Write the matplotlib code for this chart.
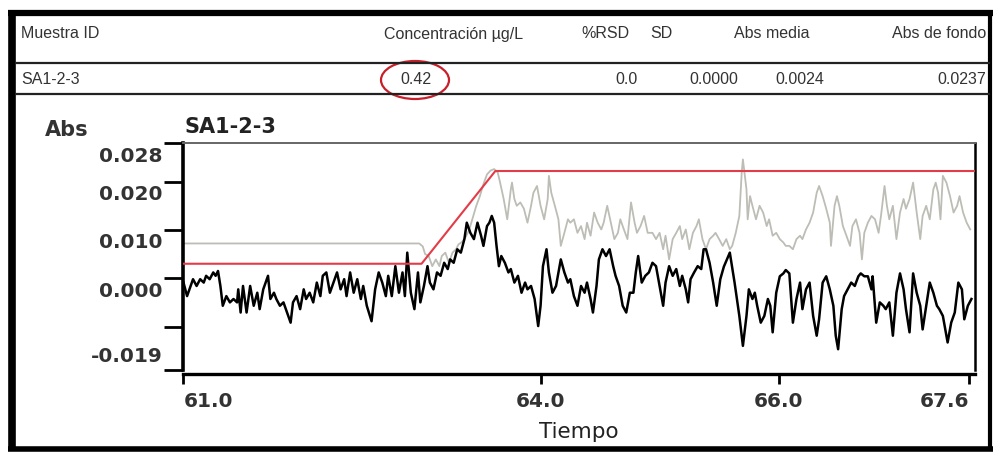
import matplotlib
matplotlib.use("Agg")
import matplotlib.pyplot as plt
from matplotlib.lines import Line2D
from matplotlib.patches import Ellipse
from matplotlib.transforms import Affine2D, ScaledTranslation, blended_transform_factory

# table above the plot
header_labels = ["Muestra ID", "Concentración µg/L", "%RSD", "SD", "Abs media", "Abs de fondo"]
row_values = ["SA1-2-3", "0.42", "0.0", "0.0000", "0.0024", "0.0237"]

# signal (black), background (gray) and baseline (red), Abs vs Tiempo
black_t = [61.00, 61.03, 61.06, 61.08, 61.11, 61.14, 61.17, 61.19, 61.22, 61.25, 61.27, 61.29,
           61.31, 61.33, 61.36, 61.39, 61.42, 61.45, 61.46, 61.48, 61.50, 61.53, 61.56, 61.59,
           61.62, 61.64, 61.67, 61.71, 61.73, 61.76, 61.78, 61.81, 61.84, 61.87, 61.90, 61.92,
           61.95, 61.98, 62.01, 62.03, 62.06, 62.09, 62.12, 62.15, 62.17, 62.20, 62.23, 62.26,
           62.29, 62.32, 62.35, 62.37, 62.40, 62.43, 62.46, 62.49, 62.51, 62.54, 62.58, 62.61,
           62.64, 62.67, 62.70, 62.72, 62.75, 62.78, 62.81, 62.84, 62.86, 62.88, 62.91, 62.94,
           62.97, 62.99, 63.02, 63.05, 63.07, 63.10, 63.13, 63.16, 63.19, 63.22, 63.24, 63.27,
           63.30, 63.33, 63.36, 63.38, 63.41, 63.44, 63.47, 63.50, 63.52, 63.55, 63.57, 63.59,
           63.61, 63.63, 63.65, 63.67, 63.70, 63.73, 63.75, 63.78, 63.81, 63.84, 63.87, 63.89,
           63.92, 63.95, 63.98, 64.00, 64.02, 64.05, 64.07, 64.10, 64.13, 64.15, 64.17, 64.20,
           64.23, 64.25, 64.28, 64.31, 64.34, 64.37, 64.39, 64.42, 64.44, 64.47, 64.49, 64.52,
           64.55, 64.58, 64.61, 64.63, 64.66, 64.69, 64.72, 64.75, 64.78, 64.80, 64.82, 64.85,
           64.88, 64.91, 64.94, 64.97, 65.00, 65.03, 65.05, 65.08, 65.11, 65.14, 65.17, 65.19,
           65.22, 65.24, 65.26, 65.29, 65.32, 65.35, 65.37, 65.39, 65.42, 65.45, 65.48, 65.51,
           65.54, 65.59, 65.63, 65.67, 65.70, 65.73, 65.75, 65.78, 65.80, 65.82, 65.85, 65.88,
           65.91, 65.93, 65.95, 65.98, 66.01, 66.04, 66.06, 66.09, 66.12, 66.15, 66.18, 66.20,
           66.23, 66.26, 66.29, 66.32, 66.34, 66.37, 66.40, 66.43, 66.46, 66.48, 66.50, 66.53,
           66.55, 66.58, 66.61, 66.64, 66.67, 66.69, 66.72, 66.75, 66.78, 66.79, 66.82, 66.85,
           66.88, 66.90, 66.93, 66.96, 66.99, 67.02, 67.05, 67.07, 67.10, 67.13, 67.16, 67.19,
           67.21, 67.24, 67.27, 67.30, 67.33, 67.35, 67.38, 67.42, 67.45, 67.48, 67.51, 67.54,
           67.56, 67.59, 67.62]
black_abs = [-0.0009, -0.0037, -0.0016, -0.0002, -0.0016, -0.0002, -0.0009, 0.0005, -0.0002, 0.0012, 0.0005, 0.0015,
             -0.0016, -0.0057, -0.0037, -0.0050, -0.0043, -0.0050, -0.0023, -0.0071, -0.0016, -0.0071, -0.0016, -0.0057,
             -0.0030, -0.0064, -0.0023, 0.0005, -0.0043, -0.0030, -0.0043, -0.0057, -0.0050, -0.0071, -0.0092, -0.0050,
             -0.0037, -0.0064, -0.0023, -0.0043, -0.0030, -0.0050, -0.0009, -0.0037, 0.0005, 0.0012, -0.0030, -0.0009,
             0.0012, -0.0023, -0.0002, -0.0037, 0.0012, -0.0030, -0.0002, -0.0043, -0.0016, -0.0057, -0.0089, -0.0023,
             0.0012, -0.0009, -0.0037, 0.0005, -0.0037, 0.0025, -0.0030, 0.0012, -0.0037, 0.0053, -0.0030, -0.0064,
             0.0012, -0.0050, -0.0016, 0.0025, -0.0009, -0.0023, 0.0012, 0.0005, 0.0032, 0.0019, 0.0039, 0.0032,
             0.0060, 0.0053, 0.0081, 0.0115, 0.0094, 0.0081, 0.0115, 0.0088, 0.0067, 0.0108, 0.0115, 0.0129,
             0.0115, 0.0067, 0.0025, 0.0046, 0.0032, 0.0012, 0.0019, -0.0009, 0.0005, -0.0030, -0.0009, -0.0023,
             -0.0016, -0.0043, -0.0099, -0.0057, 0.0025, 0.0060, 0.0012, -0.0030, -0.0016, 0.0012, 0.0039, 0.0012,
             -0.0009, -0.0002, -0.0037, -0.0057, -0.0016, -0.0030, -0.0009, -0.0043, -0.0071, -0.0016, 0.0039, 0.0060,
             0.0046, 0.0060, 0.0025, 0.0005, -0.0016, -0.0057, -0.0071, -0.0030, -0.0030, 0.0012, 0.0046, -0.0009,
             0.0005, 0.0012, 0.0032, 0.0025, -0.0016, -0.0057, -0.0009, 0.0025, 0.0005, 0.0019, -0.0016, 0.0005,
             -0.0023, -0.0050, -0.0002, 0.0012, 0.0025, 0.0019, 0.0060, 0.0060, 0.0032, -0.0009, -0.0057, -0.0002,
             0.0024, 0.0053, -0.0009, -0.0078, -0.0140, -0.0078, -0.0023, -0.0043, -0.0030, -0.0057, -0.0092, -0.0078,
             -0.0043, -0.0057, -0.0112, -0.0030, 0.0004, 0.0010, 0.0017, 0.0010, -0.0092, -0.0043, -0.0009, -0.0064,
             -0.0023, -0.0009, -0.0078, -0.0119, -0.0085, -0.0009, 0.0004, -0.0023, -0.0057, -0.0119, -0.0147, -0.0064,
             -0.0037, -0.0023, -0.0009, -0.0016, 0.0004, 0.0010, 0.0004, 0.0004, -0.0023, 0.0004, -0.0092, -0.0050,
             -0.0057, -0.0064, -0.0050, -0.0119, -0.0030, 0.0010, -0.0023, -0.0064, -0.0112, 0.0010, -0.0030, -0.0057,
             -0.0106, -0.0057, -0.0009, -0.0030, -0.0057, -0.0064, -0.0078, -0.0133, -0.0092, -0.0071, -0.0009, -0.0023,
             -0.0085, -0.0057, -0.0043]

gray_t = [61.00, 62.98, 63.01, 63.03, 63.06, 63.09, 63.12, 63.15, 63.17, 63.20, 63.23, 63.26,
          63.29, 63.31, 63.34, 63.37, 63.40, 63.43, 63.46, 63.49, 63.52, 63.55, 63.58, 63.61,
          63.64, 63.66, 63.69, 63.72, 63.75, 63.76, 63.78, 63.80, 63.83, 63.86, 63.89, 63.92,
          63.94, 63.97, 64.00, 64.03, 64.06, 64.07, 64.09, 64.12, 64.15, 64.17, 64.20, 64.23,
          64.25, 64.28, 64.31, 64.34, 64.37, 64.39, 64.42, 64.45, 64.48, 64.51, 64.53, 64.56,
          64.59, 64.62, 64.65, 64.67, 64.70, 64.73, 64.76, 64.79, 64.81, 64.84, 64.87, 64.90,
          64.94, 64.97, 65.00, 65.03, 65.05, 65.08, 65.11, 65.14, 65.17, 65.19, 65.22, 65.25,
          65.28, 65.31, 65.33, 65.36, 65.39, 65.42, 65.45, 65.47, 65.50, 65.53, 65.56, 65.59,
          65.61, 65.64, 65.67, 65.69, 65.70, 65.73, 65.74, 65.76, 65.78, 65.81, 65.84, 65.87,
          65.90, 65.92, 65.95, 65.98, 66.01, 66.04, 66.06, 66.09, 66.12, 66.15, 66.18, 66.20,
          66.23, 66.26, 66.29, 66.32, 66.34, 66.37, 66.40, 66.43, 66.44, 66.47, 66.49, 66.51,
          66.54, 66.57, 66.60, 66.62, 66.65, 66.68, 66.70, 66.72, 66.75, 66.78, 66.81, 66.84,
          66.86, 66.89, 66.91, 66.93, 66.96, 66.99, 67.02, 67.05, 67.07, 67.10, 67.13, 67.16,
          67.19, 67.21, 67.24, 67.27, 67.30, 67.32, 67.34, 67.36, 67.38, 67.41, 67.44, 67.47,
          67.50, 67.52, 67.55, 67.58, 67.61]
gray_abs = [0.0072, 0.0072, 0.0066, 0.0050, 0.0046, 0.0025, 0.0039, 0.0025, 0.0046, 0.0053, 0.0032, 0.0053,
            0.0060, 0.0070, 0.0075, 0.0085, 0.0100, 0.0125, 0.0150, 0.0170, 0.0195, 0.0215, 0.0223, 0.0226,
            0.0219, 0.0198, 0.0164, 0.0122, 0.0184, 0.0198, 0.0164, 0.0150, 0.0157, 0.0144, 0.0115, 0.0150,
            0.0177, 0.0191, 0.0150, 0.0122, 0.0164, 0.0212, 0.0177, 0.0150, 0.0122, 0.0067, 0.0094, 0.0122,
            0.0115, 0.0122, 0.0094, 0.0108, 0.0081, 0.0115, 0.0088, 0.0136, 0.0115, 0.0101, 0.0115, 0.0150,
            0.0115, 0.0081, 0.0094, 0.0122, 0.0101, 0.0081, 0.0157, 0.0115, 0.0094, 0.0108, 0.0129, 0.0094,
            0.0094, 0.0081, 0.0094, 0.0060, 0.0088, 0.0039, 0.0081, 0.0094, 0.0108, 0.0081, 0.0101, 0.0060,
            0.0094, 0.0108, 0.0122, 0.0081, 0.0060, 0.0081, 0.0088, 0.0094, 0.0081, 0.0067, 0.0081, 0.0060,
            0.0067, 0.0094, 0.0129, 0.0219, 0.0246, 0.0184, 0.0122, 0.0170, 0.0150, 0.0122, 0.0150, 0.0136,
            0.0108, 0.0122, 0.0088, 0.0094, 0.0081, 0.0074, 0.0067, 0.0067, 0.0060, 0.0081, 0.0088, 0.0081,
            0.0101, 0.0115, 0.0136, 0.0177, 0.0191, 0.0170, 0.0144, 0.0115, 0.0067, 0.0150, 0.0170, 0.0150,
            0.0108, 0.0088, 0.0067, 0.0108, 0.0122, 0.0094, 0.0039, 0.0094, 0.0115, 0.0129, 0.0122, 0.0094,
            0.0129, 0.0191, 0.0150, 0.0122, 0.0150, 0.0081, 0.0136, 0.0164, 0.0144, 0.0164, 0.0198, 0.0136,
            0.0081, 0.0129, 0.0150, 0.0122, 0.0184, 0.0198, 0.0177, 0.0122, 0.0212, 0.0198, 0.0170, 0.0136,
            0.0150, 0.0170, 0.0136, 0.0115, 0.0101]

red_t = [61.00, 63.00, 63.62, 67.65]
red_abs = [0.0030, 0.0030, 0.0222, 0.0222]

xticks = [61.0, 64.0, 66.0, 67.6]
xtick_labels = ["61.0", "64.0", "66.0", "67.6"]
yticks = [0.028, 0.020, 0.010, 0.000, -0.010, -0.019]
ytick_labels = ["0.028", "0.020", "0.010", "0.000", "", "-0.019"]

W, H = 995, 454
fig = plt.figure(figsize=(W / 100, H / 100), dpi=100)
# pixel coords measured from the top-left corner
pix = Affine2D().scale(1 / W, -1 / H).translate(0, 1) + fig.transFigure

# frame and table rules
def rule(xs, ys, lw, color="black"):
    fig.add_artist(Line2D(xs, ys, transform=pix, lw=lw, color=color, solid_capstyle="butt"))

rule([8, 993], [13, 13], 4.5)
rule([12, 12], [10, 451], 5.5)
rule([990, 990], [10, 451], 3)
rule([8, 993], [449, 449], 4)
rule([15, 990], [63, 63], 1.6, "#222222")
rule([15, 990], [94, 94], 1.6, "#222222")

tbl_font = dict(family="Liberation Sans", fontsize=11.5, color="#333333", transform=pix, va="center")
head_x = [21, 454, 605, 661, 772, 986]
head_ha = ["left", "center", "center", "center", "center", "right"]
for lab, x, ha in zip(header_labels, head_x, head_ha):
    fig.text(x, 34, lab, ha=ha, **tbl_font)
row_x = [21, 416, 638, 714, 800, 986]
row_ha = ["left", "center", "right", "center", "center", "right"]
for val, x, ha in zip(row_values, row_x, row_ha):
    fig.text(x, 80, val, ha=ha, **tbl_font)
fig.add_artist(Ellipse((415, 80), 68, 38, transform=pix, fill=False, ec="#c8202a", lw=1.6))

# chromatogram panel
ax = fig.add_axes([183.5 / W, (H - 370) / H, 791.5 / W, 227 / H])
ax.plot(gray_t, gray_abs, color="#bdbdb6", lw=1.3, zorder=1)
ax.plot(black_t, black_abs, color="black", lw=1.8, zorder=2)
ax.plot(red_t, red_abs, color="#e23c48", lw=1.5, zorder=3)
ax.set_xlim(61.0, 67.65)
ax.set_ylim(-0.019, 0.028)

ax.spines["left"].set_linewidth(2.6)
ax.spines["bottom"].set_linewidth(2.4)
ax.spines["bottom"].set_position(("outward", 3))
ax.spines["top"].set_linewidth(1.4)
ax.spines["top"].set_color("#666666")
ax.spines["right"].set_linewidth(1.8)

ax.set_yticks(yticks)
ax.set_yticklabels([])
ax.tick_params(axis="y", length=14, width=2, direction="out")
ylab_tr = blended_transform_factory(ax.transAxes, ax.transData)
for val, lab in zip(yticks, ytick_labels):
    dy = 13 if val == min(yticks) else -13
    ax.text(-0.027, val, lab, ha="right", va="center", fontsize=14.5, fontweight="bold", color="#333333",
            transform=ylab_tr + ScaledTranslation(0, dy / 100, fig.dpi_scale_trans))

ax.set_xticks(xticks)
ax.set_xticklabels(xtick_labels, fontsize=14.5, fontweight="bold", color="#333333")
ax.tick_params(axis="x", length=7, width=2, direction="out", pad=6)
xl = ax.get_xticklabels()
xl[0].set_ha("left")
xl[-1].set_ha("right")
ax.set_xlabel("Tiempo", fontsize=15.5, color="#222222", labelpad=8)

fig.text(67, 130, "Abs", transform=pix, ha="center", va="center", fontsize=15, fontweight="bold", color="#333333")
fig.text(185, 127, "SA1-2-3", transform=pix, ha="left", va="center", fontsize=15, fontweight="bold", color="#222222")

fig.savefig("out.png", dpi=100)
